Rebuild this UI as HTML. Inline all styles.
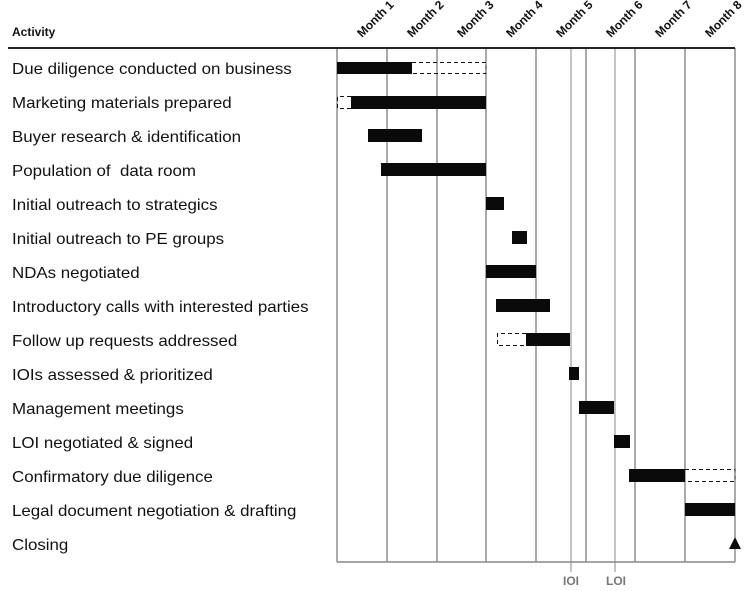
<!DOCTYPE html>
<html><head><meta charset="utf-8"><style>
html,body{margin:0;padding:0;background:#fff}
svg{display:block;font-family:"Liberation Sans",sans-serif}
</style></head><body>
<svg width="751" height="591" viewBox="0 0 751 591" xmlns="http://www.w3.org/2000/svg">
<text x="12" y="36" font-size="12" font-weight="bold" fill="#111">Activity</text>
<line x1="571" y1="48" x2="571" y2="572" stroke="#c4c4c4" stroke-width="2"/>
<line x1="615" y1="48" x2="615" y2="572" stroke="#c4c4c4" stroke-width="2"/>
<text x="571" y="585" font-size="12" font-weight="bold" fill="#777" text-anchor="middle">IOI</text>
<text x="616" y="585" font-size="12" font-weight="bold" fill="#777" text-anchor="middle">LOI</text>
<g stroke="#555" stroke-width="1">
<line x1="337" y1="48" x2="337" y2="562"/>
<line x1="387" y1="48" x2="387" y2="562"/>
<line x1="437" y1="48" x2="437" y2="562"/>
<line x1="486" y1="48" x2="486" y2="562"/>
<line x1="536" y1="48" x2="536" y2="562"/>
<line x1="586" y1="48" x2="586" y2="562"/>
<line x1="635" y1="48" x2="635" y2="562"/>
<line x1="685" y1="48" x2="685" y2="562"/>
<line x1="735" y1="48" x2="735" y2="562"/>
</g>
<line x1="337" y1="562" x2="735" y2="562" stroke="#888" stroke-width="1.5"/>
<line x1="8" y1="48" x2="735" y2="48" stroke="#222" stroke-width="2"/>
<g font-size="12" font-weight="bold" fill="#111">
<text transform="translate(362,38) rotate(-45)">Month 1</text>
<text transform="translate(412,38) rotate(-45)">Month 2</text>
<text transform="translate(462,38) rotate(-45)">Month 3</text>
<text transform="translate(511,38) rotate(-45)">Month 4</text>
<text transform="translate(561,38) rotate(-45)">Month 5</text>
<text transform="translate(611,38) rotate(-45)">Month 6</text>
<text transform="translate(660,38) rotate(-45)">Month 7</text>
<text transform="translate(710,38) rotate(-45)">Month 8</text>
</g>
<g font-size="15.5" fill="#111" transform="translate(12,0) scale(1.09,1)">
<text x="0" y="74">Due diligence conducted on business</text>
<text x="0" y="108">Marketing materials prepared</text>
<text x="0" y="142">Buyer research &amp; identification</text>
<text x="0" y="176" xml:space="preserve">Population of  data room</text>
<text x="0" y="210">Initial outreach to strategics</text>
<text x="0" y="244">Initial outreach to PE groups</text>
<text x="0" y="278">NDAs negotiated</text>
<text x="0" y="312">Introductory calls with interested parties</text>
<text x="0" y="346">Follow up requests addressed</text>
<text x="0" y="380">IOIs assessed &amp; prioritized</text>
<text x="0" y="414">Management meetings</text>
<text x="0" y="448">LOI negotiated &amp; signed</text>
<text x="0" y="482">Confirmatory due diligence</text>
<text x="0" y="516">Legal document negotiation &amp; drafting</text>
<text x="0" y="550">Closing</text>
</g>
<g fill="#0a0a0a">
<rect x="337" y="62" width="75" height="12"/>
<rect x="351" y="96" width="135" height="13"/>
<rect x="368" y="129" width="54" height="13"/>
<rect x="381" y="163" width="105" height="13"/>
<rect x="486" y="197" width="18" height="13"/>
<rect x="512" y="231" width="15" height="13"/>
<rect x="486" y="265" width="50" height="13"/>
<rect x="496" y="299" width="54" height="13"/>
<rect x="526" y="333" width="44" height="13"/>
<rect x="569" y="367" width="10" height="13"/>
<rect x="579" y="401" width="35" height="13"/>
<rect x="614" y="435" width="16" height="13"/>
<rect x="629" y="469" width="56" height="13"/>
<rect x="685" y="503" width="50" height="13"/>
<polygon points="735,537 741,549 729,549"/>
</g>
<g fill="none" stroke="#111" stroke-width="1" stroke-dasharray="4,3">
<path d="M412 62.5H486V73.5H412"/>
<path d="M351 96.5H337.5V108.5H351"/>
<path d="M526 333.5H497.5V345.5H526"/>
<path d="M685 469.5H735V481.5H685"/>
</g>
</svg>
</body></html>
